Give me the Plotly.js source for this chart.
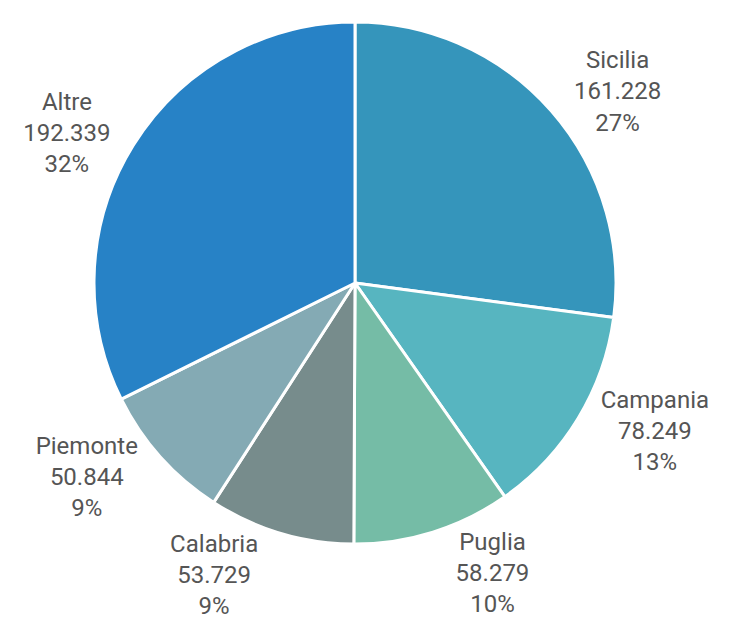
<!DOCTYPE html>
<html>
<head>
<meta charset="utf-8">
<script src="https://cdn.plot.ly/plotly-3.0.1.min.js"></script>
<style>
  html, body { margin: 0; padding: 0; background: #fff; }
  #chart { width: 737px; height: 622px; }
</style>
</head>
<body>
<div id="chart"></div>
<script>
var regions = ['Sicilia', 'Campania', 'Puglia', 'Calabria', 'Piemonte', 'Altre'];
var counts = [161228, 78249, 58279, 53729, 50844, 192339];
var colors = ['#3595bb', '#57b5c0', '#75bca6', '#778c8c', '#84aab4', '#2782c6'];

var trace = {
  type: 'pie',
  labels: regions,
  values: counts,
  sort: false,
  direction: 'clockwise',
  rotation: 0,
  marker: { colors: colors, line: { color: '#ffffff', width: 3 } },
  textposition: 'outside',
  texttemplate: '%{label}<br>%{value:,.0f}<br>%{percent:.0%}',
  outsidetextfont: { family: 'Roboto, sans-serif', size: 24, color: '#555555' },
  hoverinfo: 'label+value+percent',
  showlegend: false
};

var layout = {
  width: 737,
  height: 622,
  margin: { l: 93, r: 120, t: 22, b: 78 },
  separators: ',.',
  paper_bgcolor: '#ffffff',
  showlegend: false
};

Plotly.newPlot('chart', [trace], layout, { displayModeBar: false });
</script>
</body>
</html>
